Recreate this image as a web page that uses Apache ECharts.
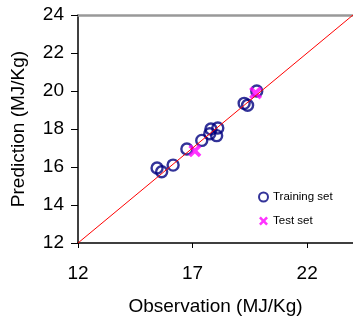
<!DOCTYPE html>
<html>
<head>
<meta charset="utf-8">
<script src="https://cdn.jsdelivr.net/npm/echarts@6/dist/echarts.min.js"></script>
<style>
  html, body { margin: 0; padding: 0; background: #fff; }
  #chart { width: 353px; height: 323px; }
</style>
</head>
<body>
<div id="chart"></div>
<script>
// observation / prediction pairs
var trainObs  = [15.45, 15.65, 16.15, 16.75, 17.4, 17.8, 18.1, 18.05, 17.75, 19.25, 19.4, 19.8];
var trainPred = [15.95, 15.75, 16.1, 16.95, 17.4, 18.0, 18.05, 17.65, 17.75, 19.35, 19.25, 20.0];
var testObs  = [17.1, 19.75];
var testPred = [16.85, 19.9];
var xTicks = [12, 17, 22];
var idLine = [12, 24];

function pairs(a, b) {
    return a.map(function (v, i) { return [v, b[i]]; });
}

var crossPath = 'path://M2,0L5,3L8,0L10,2L7,5L10,8L8,10L5,7L2,10L0,8L3,5L0,2Z';
var font = 'Liberation Sans, Arial, sans-serif';

var myChart = echarts.init(document.getElementById('chart'));
myChart.setOption({
    animation: false,
    grid: { left: 78, top: 15, right: 0, bottom: 80, containLabel: false },
    legend: {
        orient: 'vertical',
        left: 253,
        top: 186,
        itemGap: 12,
        itemWidth: 9,
        itemHeight: 9,
        textStyle: { fontFamily: font, fontSize: 11.5, color: '#000' },
        data: ['Training set', 'Test set']
    },
    xAxis: [{
        type: 'value',
        min: 12, max: 24,
        name: 'Observation (MJ/Kg)',
        nameLocation: 'middle',
        nameGap: 54,
        nameTextStyle: { fontFamily: font, fontSize: 19, color: '#000' },
        axisLine: { lineStyle: { color: '#000', width: 1.5 } },
        axisTick: { show: true, length: 5, customValues: xTicks, lineStyle: { color: '#000' } },
        axisLabel: { customValues: xTicks, fontFamily: font, fontSize: 19, color: '#000', margin: 21 },
        splitLine: { show: false }
    }, {
        type: 'value',
        position: 'top',
        min: 12, max: 24,
        axisLine: { show: true, lineStyle: { color: '#999', width: 2.5 } },
        axisTick: { show: false },
        axisLabel: { show: false },
        splitLine: { show: false }
    }],
    yAxis: {
        type: 'value',
        min: 12, max: 24,
        interval: 2,
        name: 'Prediction (MJ/Kg)',
        nameLocation: 'middle',
        nameGap: 50,
        nameTextStyle: { fontFamily: font, fontSize: 19, color: '#000' },
        axisLine: { show: true, lineStyle: { color: '#000', width: 1.5 } },
        axisTick: { show: true, length: 7, lineStyle: { color: '#000' } },
        axisLabel: { fontFamily: font, fontSize: 19, color: '#000', margin: 14 },
        splitLine: { show: false }
    },
    series: [{
        type: 'line',
        data: [[idLine[0], idLine[0]], [idLine[1], idLine[1]]],
        showSymbol: false,
        symbol: 'none',
        lineStyle: { color: '#ff0000', width: 1 },
        silent: true
    }, {
        name: 'Training set',
        type: 'scatter',
        symbol: 'circle',
        symbolSize: 11,
        itemStyle: { color: 'rgba(0,0,0,0)', borderColor: '#000080', borderWidth: 2.4 },
        data: pairs(trainObs, trainPred)
    }, {
        name: 'Test set',
        type: 'scatter',
        symbol: crossPath,
        symbolSize: 13,
        itemStyle: { color: '#ff00ff' },
        data: pairs(testObs, testPred)
    }]
});
</script>
</body>
</html>
